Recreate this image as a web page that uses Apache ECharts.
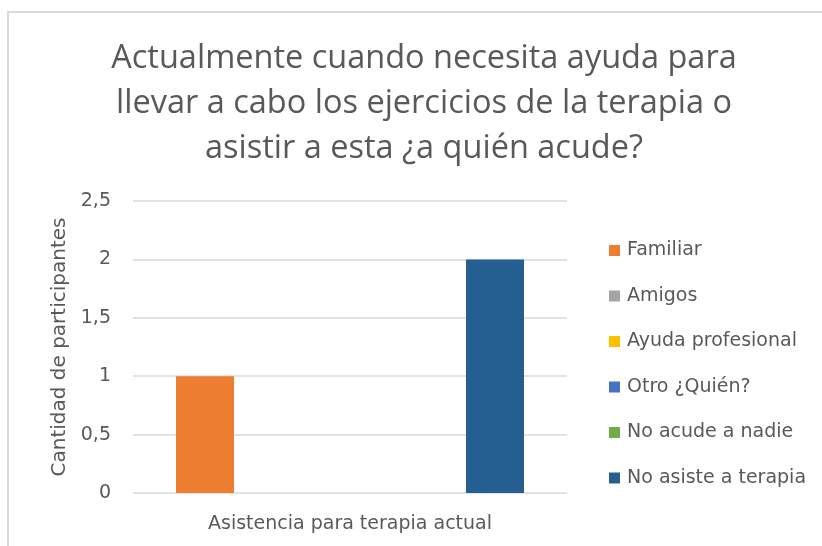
<!DOCTYPE html>
<html>
<head>
<meta charset="utf-8">
<script src="https://cdn.jsdelivr.net/npm/echarts@6/dist/echarts.min.js"></script>
<style>
  html, body { margin: 0; padding: 0; background: #fff; }
  #frame {
    position: absolute; left: 7px; top: 11px; width: 815px; height: 535px;
    border-left: 2px solid #d9d9d9; border-top: 2px solid #d9d9d9;
    box-sizing: border-box;
  }
  #chart { position: absolute; left: 0; top: 0; width: 822px; height: 546px; }
</style>
</head>
<body>
<div id="frame"></div>
<div id="chart"></div>
<script>
// datos
const categories = ["Asistencia para terapia actual"];
const seriesNames = ["Familiar", "Amigos", "Ayuda profesional", "Otro ¿Quién?", "No acude a nadie", "No asiste a terapia"];
const seriesValues = [[1], [0], [0], [0], [0], [2]];
const seriesColors = ["#ED7D31", "#A5A5A5", "#FFC000", "#4472C4", "#70AD47", "#255E91"];
const yTickLabels = ["0", "0,5", "1", "1,5", "2", "2,5"];

const titleFont = "'Open Sans', 'Noto Sans', sans-serif";
const font = "'DejaVu Sans', sans-serif";
const textColor = "#595959";

const chart = echarts.init(document.getElementById("chart"));

const options = {
  animation: false,
  title: {
    text: "Actualmente cuando necesita ayuda para\nllevar a cabo los ejercicios de la terapia o\nasistir a esta ¿a quién acude?",
    left: 419,
    top: 31,
    textAlign: "center",
    textStyle: {
      fontFamily: titleFont,
      fontSize: 32.5,
      fontWeight: "normal",
      color: textColor,
      lineHeight: 45,
      align: "center",
    },
  },
  grid: {
    left: 133,
    right: 255,
    top: 201,
    bottom: 53,
    containLabel: false,
  },
  legend: {
    orient: "vertical",
    left: 604,
    top: 236,
    itemWidth: 11,
    itemHeight: 11,
    itemGap: 26.5,
    icon: "rect",
    data: seriesNames,
    textStyle: {
      fontFamily: font,
      fontSize: 19,
      color: textColor,
      padding: [0, 0, 0, 2],
    },
  },
  xAxis: {
    type: "category",
    data: categories,
    axisLine: { show: false },
    axisTick: { show: false },
    axisLabel: {
      fontFamily: font,
      fontSize: 19,
      color: textColor,
      margin: 22,
    },
  },
  yAxis: {
    type: "value",
    min: 0,
    max: 2.5,
    interval: 0.5,
    name: "Cantidad de participantes",
    nameLocation: "middle",
    nameGap: 63,
    nameTextStyle: {
      fontFamily: font,
      fontSize: 20,
      color: textColor,
    },
    axisLine: { show: false },
    axisTick: { show: false },
    splitLine: { lineStyle: { color: "#d9d9d9", width: 1.5 } },
    axisLabel: {
      fontFamily: font,
      fontSize: 19,
      color: textColor,
      margin: 22,
      formatter: (v) => yTickLabels[Math.round(v / 0.5)],
    },
  },
  series: seriesNames.map((name, i) => ({
    name: name,
    type: "bar",
    data: seriesValues[i],
    barWidth: 58,
    barGap: "0%",
    itemStyle: { color: seriesColors[i] },
  })),
};

chart.setOption(options);
</script>
</body>
</html>
